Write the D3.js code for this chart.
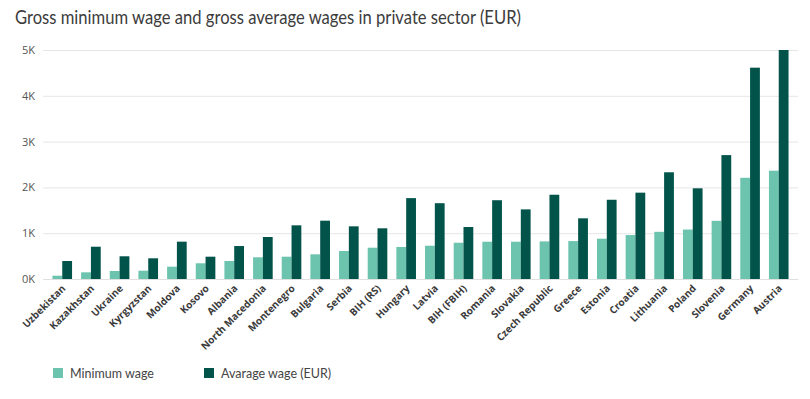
<!DOCTYPE html>
<html>
<head>
<meta charset="utf-8">
<script src="https://cdn.jsdelivr.net/npm/d3@7"></script>
<style>
  html, body { margin: 0; padding: 0; background: #ffffff; }
  svg { display: block; }
</style>
</head>
<body>
<svg id="chart" width="810" height="399"></svg>
<script>
const categories = ["Uzbekistan","Kazakhstan","Ukraine","Kyrgyzstan","Moldova","Kosovo","Albania","North Macedonia","Montenegro","Bulgaria","Serbia","BIH (RS)","Hungary","Latvia","BIH (FBIH)","Romania","Slovakia","Czech Republic","Greece","Estonia","Croatia","Lithuania","Poland","Slovenia","Germany","Austria"];
const minimumWage = [72,146,175,181,269,343,393,474,487,539,611,683,699,727,792,814,814,821,828,880,960,1030,1080,1270,2210,2365];
const averageWage = [393,705,496,452,815,487,720,917,1172,1273,1150,1107,1766,1655,1135,1720,1520,1840,1325,1730,1885,2330,1980,2705,4614,5000];
const seriesNames = ["Minimum wage","Avarage wage (EUR)"];
const yTicks = [0,1000,2000,3000,4000,5000];
const yTickLabels = ["0K","1K","2K","3K","4K","5K"];
const colors = ["#6cc4ae","#02544a"];

const svg = d3.select("#chart");

svg.append("text")
  .attr("x", 15).attr("y", 24)
  .attr("font-family", "Lato, sans-serif")
  .attr("font-size", 19)
  .attr("fill", "#3c3c3c")
  .attr("textLength", 506)
  .attr("lengthAdjust", "spacingAndGlyphs")
  .text("Gross minimum wage and gross average wages in private sector (EUR)");

const x = d3.scaleBand().domain(categories).range([43, 798]).paddingInner(0.316).paddingOuter(0.33);
const xi = d3.scaleBand().domain([0,1]).range([0, x.bandwidth()]).padding(0);
const y = d3.scaleLinear().domain([0, 5000]).range([279, 50]);

// grid
const yAxis = d3.axisLeft(y).tickValues(yTicks).tickFormat((d,i) => yTickLabels[i]).tickSize(-(798-43)).tickPadding(8);
const gy = svg.append("g").attr("transform", "translate(43,0)").call(yAxis);
gy.select(".domain").remove();
gy.selectAll(".tick line").attr("stroke", "#e6e6e6").attr("stroke-width", 1);
gy.selectAll(".tick text")
  .attr("font-family", "'Open Sans', sans-serif")
  .attr("font-size", 11)
  .attr("fill", "#555");

// bars
const groups = svg.append("g").selectAll("g").data(categories).join("g")
  .attr("transform", d => `translate(${x(d)},0)`);
groups.selectAll("rect").data((d,i) => [minimumWage[i], averageWage[i]]).join("rect")
  .attr("x", (v,j) => xi(j))
  .attr("width", xi.bandwidth())
  .attr("y", v => y(v))
  .attr("height", v => y(0) - y(v))
  .attr("fill", (v,j) => colors[j]);

// x axis
const xAxis = d3.axisBottom(x).tickSize(0).tickPadding(0);
const gx = svg.append("g").attr("transform", "translate(0,279)").call(xAxis);
gx.select(".domain").attr("stroke", "#e0e0e0");
gx.selectAll(".tick text")
  .attr("font-family", "'Open Sans', sans-serif")
  .attr("font-size", 10)
  .attr("font-weight", "bold")
  .attr("fill", "#3a3a3a")
  .attr("text-anchor", "end")
  .attr("dy", 0)
  .attr("transform", "translate(4,10) rotate(-45)");

// legend
const legend = svg.append("g");
const legendX = [53, 204];
seriesNames.forEach((name, i) => {
  legend.append("rect").attr("x", legendX[i]).attr("y", 368).attr("width", 10).attr("height", 10).attr("fill", colors[i]);
  legend.append("text").attr("x", legendX[i] + 17).attr("y", 378)
    .attr("font-family", "Lato, sans-serif")
    .attr("font-size", 12.5)
    .attr("fill", "#444")
    .text(name);
});
</script>
</body>
</html>
